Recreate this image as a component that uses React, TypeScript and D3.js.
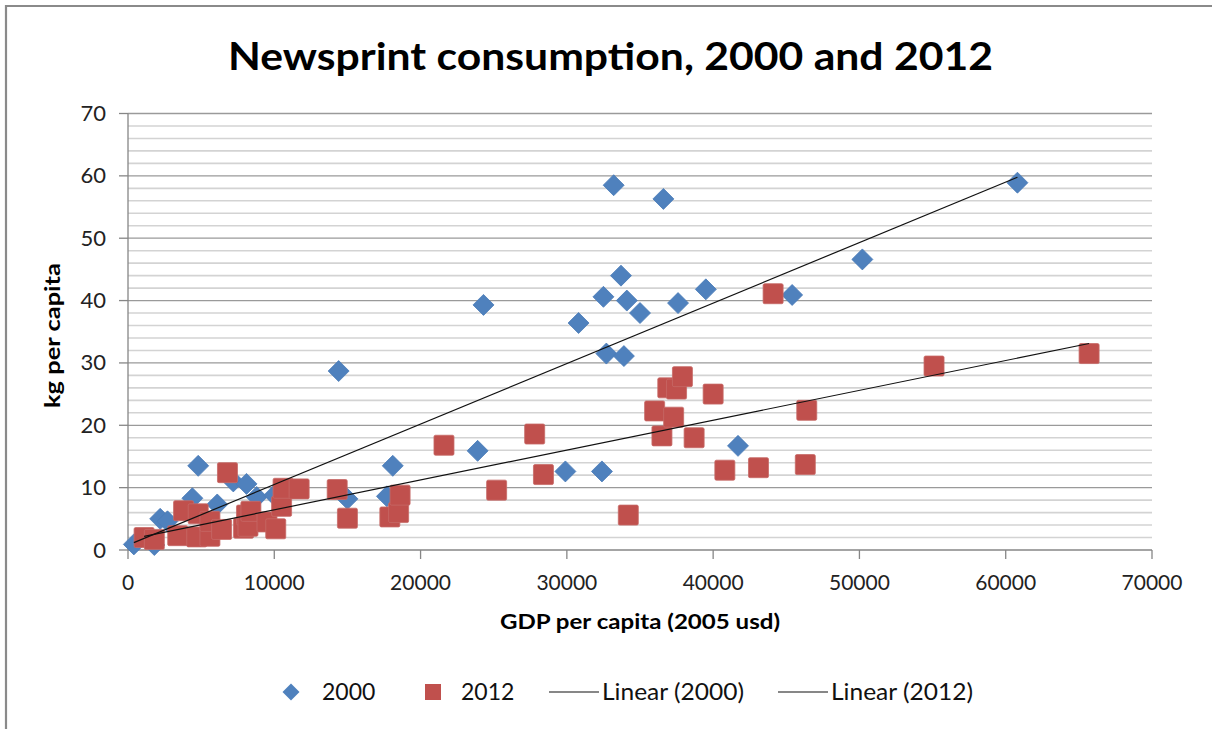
import React from "react";
import * as d3 from "d3";

// GDP per capita (2005 usd), kg per capita
const gdp2000 = [400, 1800, 2200, 2700, 4400, 4800, 6100, 7200, 8100, 8800, 10000, 15000, 17700, 18100, 14400, 23900, 24300, 29900, 30800, 32400, 32500, 32700, 33200, 33700, 33900, 34100, 35000, 36600, 37600, 39500, 41700, 45400, 50200, 60800];
const kg2000 = [0.9, 0.8, 5.0, 4.6, 8.3, 13.5, 7.3, 11.0, 10.6, 8.5, 8.8, 8.2, 8.6, 13.5, 28.7, 15.9, 39.3, 12.6, 36.4, 12.6, 40.6, 31.5, 58.5, 44.0, 31.1, 40.0, 38.0, 56.3, 39.6, 41.8, 16.7, 40.9, 46.6, 58.9];

const gdp2012 = [1100, 1800, 3400, 3800, 4700, 4800, 5600, 5600, 6400, 6800, 7900, 8100, 8200, 8400, 9500, 10100, 10500, 10600, 11700, 14300, 15000, 17900, 18500, 18600, 21600, 25200, 27800, 28400, 34200, 36000, 36500, 36900, 37300, 37500, 37900, 38700, 40000, 40800, 43100, 44100, 46300, 46400, 55100, 65700];
const kg2012 = [2.0, 1.7, 2.3, 6.3, 2.1, 5.8, 2.2, 4.6, 3.3, 12.4, 3.5, 5.6, 3.8, 6.2, 4.5, 3.4, 7.0, 9.9, 9.8, 9.7, 5.1, 5.3, 6.0, 8.8, 16.8, 9.6, 18.6, 12.1, 5.6, 22.3, 18.3, 26.0, 21.3, 25.8, 27.8, 18.0, 25.0, 12.8, 13.2, 41.1, 13.7, 22.4, 29.5, 31.5];

// Linear trendline coefficients (kg per capita = intercept + slope * gdp)
const trendSlope = [0.00097, 0.000479];
const trendIntercept = [0.8, 1.65];

const xTicks = [0, 10000, 20000, 30000, 40000, 50000, 60000, 70000];
const yTicks = [0, 10, 20, 30, 40, 50, 60, 70];
const yMinor = d3.range(0, 71, 2);

const legendLabels = ["2000", "2012", "Linear (2000)", "Linear (2012)"];

const BLUE = "#4F81BD";
const RED = "#C0504D";
const FONT = "Lato, 'Open Sans', sans-serif";

export default function App() {
  const W = 1212, H = 729;
  const x = d3.scaleLinear().domain([0, 70000]).range([128, 1152]);
  const y = d3.scaleLinear().domain([0, 70]).range([550, 113.5]);

  const pts2000 = gdp2000.map((g, i) => [g, kg2000[i]]);
  const pts2012 = gdp2012.map((g, i) => [g, kg2012[i]]);

  const trends = [gdp2000, gdp2012].map((arr, k) => {
    const [lo, hi] = d3.extent(arr) as [number, number];
    return [lo, hi].map((g) => [g, trendIntercept[k] + trendSlope[k] * g]);
  });
  const line = d3.line<number[]>().x((d) => x(d[0])).y((d) => y(d[1]));

  const diamond = (cx: number, cy: number, r: number) =>
    `M${cx},${cy - r}L${cx + r},${cy}L${cx},${cy + r}L${cx - r},${cy}Z`;

  return (
    <svg width={W} height={H} style={{ position: "absolute", left: 0, top: 0, background: "#fff" }} fontFamily={FONT}>
      <rect x={0} y={0} width={W} height={H} fill="#fff" />
      {/* outer frame */}
      <path d={`M6,${H + 5}V6H${W + 5}`} fill="none" stroke="#8a8a8a" strokeWidth={2.2} />

      {/* title */}
      <text x={228} y={70} fontSize={38} fontWeight="bold" fill="#000" textLength={765} lengthAdjust="spacingAndGlyphs">
        Newsprint consumption, 2000 and 2012
      </text>

      {/* minor gridlines */}
      {yMinor.filter((v) => v % 10 !== 0).map((v) => (
        <line key={"m" + v} x1={x(0)} x2={x(70000)} y1={y(v)} y2={y(v)} stroke="#d3d3d3" strokeWidth={1.6} />
      ))}
      {/* major gridlines */}
      {yTicks.filter((v) => v > 0).map((v) => (
        <line key={"g" + v} x1={x(0)} x2={x(70000)} y1={y(v)} y2={y(v)} stroke="#9a9a9a" strokeWidth={1.3} />
      ))}

      {/* axes */}
      <line x1={x(0)} x2={x(0)} y1={y(70)} y2={y(0)} stroke="#868686" strokeWidth={1.3} />
      <line x1={x(0)} x2={x(70000)} y1={y(0)} y2={y(0)} stroke="#868686" strokeWidth={1.3} />
      {yTicks.map((v) => (
        <g key={"yt" + v}>
          <line x1={x(0) - 9} x2={x(0)} y1={y(v)} y2={y(v)} stroke="#868686" strokeWidth={1.3} />
          <text x={106} y={y(v) + 7.5} textAnchor="end" fontSize={22} fill="#222">{v}</text>
        </g>
      ))}
      {xTicks.map((v) => (
        <g key={"xt" + v}>
          <line x1={x(v)} x2={x(v)} y1={y(0)} y2={y(0) + 9} stroke="#868686" strokeWidth={1.3} />
          <text x={x(v)} y={590} textAnchor="middle" fontSize={21} fill="#222">{v}</text>
        </g>
      ))}

      {/* axis titles */}
      <text x={640} y={629} textAnchor="middle" fontSize={21} fontWeight="bold" fill="#000" textLength={280} lengthAdjust="spacingAndGlyphs">
        GDP per capita (2005 usd)
      </text>
      <text transform="translate(59.5,335.5) rotate(-90)" textAnchor="middle" fontSize={21} fontWeight="bold" fill="#000" textLength={145} lengthAdjust="spacingAndGlyphs">
        kg per capita
      </text>

      {/* series 2000 */}
      {pts2000.map((p, i) => (
        <path key={"b" + i} d={diamond(x(p[0]), y(p[1]), 10.5)} fill={BLUE} stroke="#4a7bb7" strokeWidth={0.8} />
      ))}
      {/* series 2012 */}
      {pts2012.map((p, i) => (
        <rect key={"r" + i} x={x(p[0]) - 10} y={y(p[1]) - 10} width={20} height={20} rx={1.5} fill={RED} stroke="#c76a67" strokeWidth={0.8} />
      ))}

      {/* trendlines */}
      {trends.map((t, k) => (
        <path key={"t" + k} d={line(t) as string} fill="none" stroke="#111" strokeWidth={1.2} />
      ))}

      {/* legend */}
      <g fontSize={23} fill="#111">
        <path d={diamond(291, 692, 8.5)} fill={BLUE} />
        <text x={322} y={700}>{legendLabels[0]}</text>
        <rect x={425} y={684} width={16} height={16} fill={RED} />
        <text x={461} y={700}>{legendLabels[1]}</text>
        <line x1={549} x2={599} y1={692} y2={692} stroke="#111" strokeWidth={1.2} />
        <text x={602} y={700} textLength={142} lengthAdjust="spacingAndGlyphs">{legendLabels[2]}</text>
        <line x1={778} x2={828} y1={692} y2={692} stroke="#111" strokeWidth={1.2} />
        <text x={831} y={700} textLength={142} lengthAdjust="spacingAndGlyphs">{legendLabels[3]}</text>
      </g>
    </svg>
  );
}
